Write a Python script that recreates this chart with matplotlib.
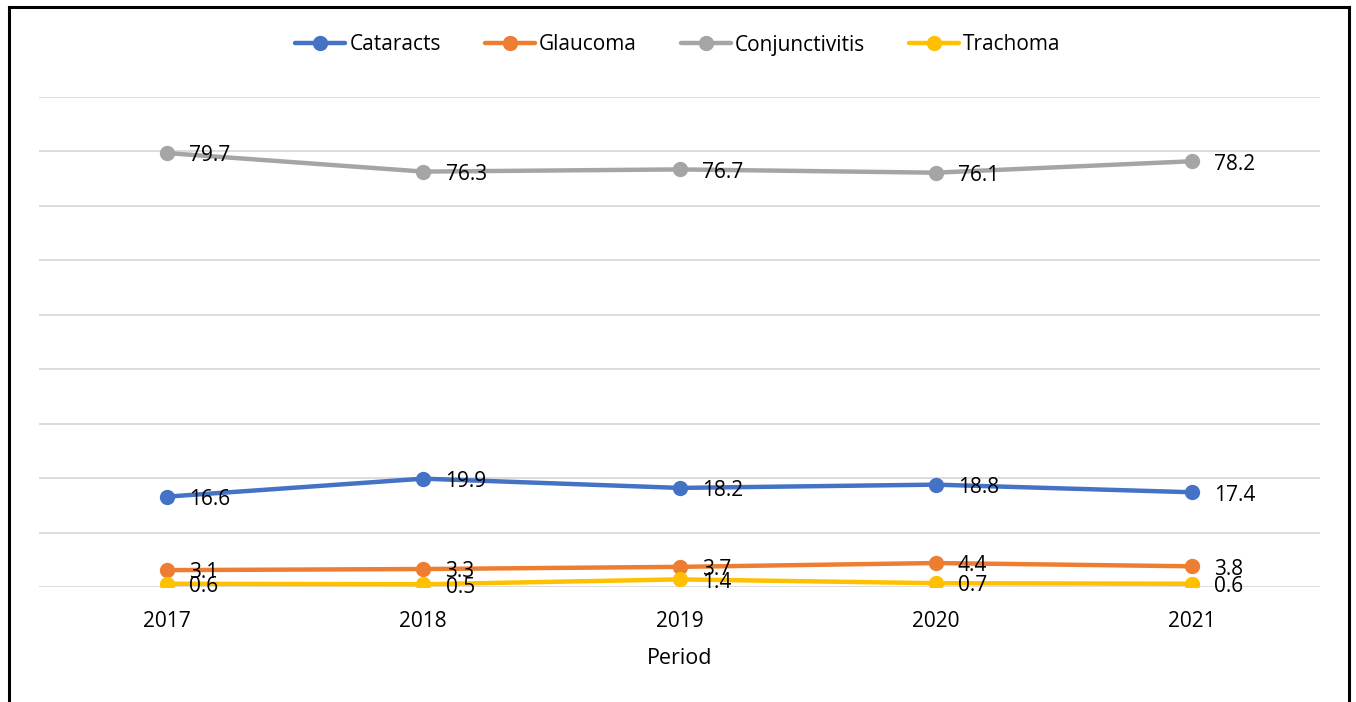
import matplotlib.pyplot as plt
from matplotlib.lines import Line2D

plt.rcParams["font.family"] = ["Open Sans", "DejaVu Sans"]

periods = ["2017", "2018", "2019", "2020", "2021"]
cataracts = [16.6, 19.9, 18.2, 18.8, 17.4]
glaucoma = [3.1, 3.3, 3.7, 4.4, 3.8]
conjunctivitis = [79.7, 76.3, 76.7, 76.1, 78.2]
trachoma = [0.6, 0.5, 1.4, 0.7, 0.6]

series = [
    ("Cataracts", cataracts, "#4472C4"),
    ("Glaucoma", glaucoma, "#ED7D31"),
    ("Conjunctivitis", conjunctivitis, "#A5A5A5"),
    ("Trachoma", trachoma, "#FFC000"),
]

fig = plt.figure(figsize=(13.56, 7.02), dpi=100)
ax = fig.add_axes([39 / 1356, 1 - 587 / 702, (1320 - 39) / 1356, (587 - 97) / 702])

x = list(range(len(periods)))
for name, vals, color in series:
    ax.plot(x, vals, color=color, lw=3.2, marker="o", ms=10, label=name,
            solid_capstyle="round", zorder=3)
    for xi, v in zip(x, vals):
        ax.annotate(f"{v}", (xi, v), xytext=(16, -2), textcoords="offset points",
                    ha="left", va="center", fontsize=15, color="black", zorder=4)

ax.set_xlim(-0.5, 4.5)
ax.set_ylim(0, 90)
ax.set_yticks(range(0, 91, 10))
ax.set_yticklabels([])
ax.tick_params(axis="y", length=0)
ax.set_xticks(x)
ax.set_xticklabels(periods, fontsize=15)
ax.tick_params(axis="x", length=0, pad=17)
ax.grid(axis="y", color="#D9D9D9", lw=1.3, zorder=0)
for s in ax.spines.values():
    s.set_visible(False)
ax.set_xlabel("Period", fontsize=15.5, labelpad=12)

ax.legend(loc="center", bbox_to_anchor=(0.5, 1 - 45 / 702), bbox_transform=fig.transFigure,
          ncol=4, frameon=False, fontsize=15, handlelength=2.4, columnspacing=2.1,
          handletextpad=0.2)

# chart border (bottom edge cut off)
fw, fh = 1356, 702
border = dict(color="black", lw=2.2, transform=fig.transFigure)
fig.add_artist(Line2D([9 / fw, 9 / fw], [0, 1 - 7 / fh], **border))
fig.add_artist(Line2D([9 / fw, 1349 / fw], [1 - 7 / fh, 1 - 7 / fh], **border))
fig.add_artist(Line2D([1349 / fw, 1349 / fw], [0, 1 - 7 / fh], **border))

plt.savefig("out.png", dpi=100)
plt.close()
